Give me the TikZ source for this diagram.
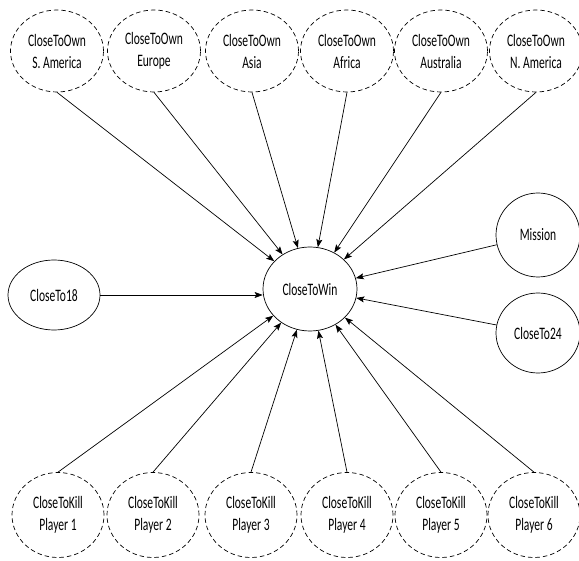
\documentclass[tikz,border=0pt]{standalone}
\usepackage{fontspec}
\setmainfont{Carlito}[FakeStretch=0.66]
\usetikzlibrary{shapes.geometric,arrows.meta}
\begin{document}
\begin{tikzpicture}[x=1pt,y=-1pt,
  every node/.style={font=\fontsize{17.5}{22}\selectfont, align=center},
  oval/.style={ellipse, draw, line width=0.7pt, inner sep=0pt},
  goal/.style={oval, dashed, dash pattern=on 4.5pt off 3pt, minimum width=93pt, minimum height=82pt},
  kill/.style={oval, dashed, dash pattern=on 4.5pt off 3pt, minimum width=92pt, minimum height=85pt},
  link/.style={line width=0.7pt, -{Stealth[length=8pt,width=6pt,inset=1.5pt]}}]
\useasboundingbox (0,0) rectangle (579,561);

% continents (top row)
\node[goal] (sam) at (57,51)  {CloseToOwn\\S. America};
\node[goal] (eur) at (154,51) {CloseToOwn\\Europe};
\node[goal] (asi) at (252,51) {CloseToOwn\\Asia};
\node[goal] (afr) at (347,51) {CloseToOwn\\Africa};
\node[goal] (aus) at (441,51) {CloseToOwn\\Australia};
\node[goal] (nam) at (536,51) {CloseToOwn\\N. America};

% central goal and side criteria
\node[oval, minimum width=94pt, minimum height=84pt] (win) at (310,289) {CloseToWin};
\node[oval, minimum width=92pt, minimum height=70pt] (c18) at (54,295) {CloseTo18};
\node[oval, minimum width=84pt, minimum height=84pt] (mis) at (538,235) {Mission};
\node[oval, minimum width=84pt, minimum height=80pt] (c24) at (538,333) {CloseTo24};

% players (bottom row)
\node[kill] (p1) at (58,515)  {CloseToKill\\Player 1};
\node[kill] (p2) at (153,515) {CloseToKill\\Player 2};
\node[kill] (p3) at (251,515) {CloseToKill\\Player 3};
\node[kill] (p4) at (347,515) {CloseToKill\\Player 4};
\node[kill] (p5) at (441,515) {CloseToKill\\Player 5};
\node[kill] (p6) at (534,515) {CloseToKill\\Player 6};

% connectors into CloseToWin
\foreach \n in {sam,eur,asi,afr,aus,nam} \draw[link] (\n.south) -- (win);
\foreach \n in {p1,p2,p3,p4,p5,p6} \draw[link] (\n.north) -- (win);
\draw[link] (c18) -- (win.west |- c18);
\draw[link] (mis) -- (win);
\draw[link] (c24) -- (win);
\end{tikzpicture}
\end{document}
